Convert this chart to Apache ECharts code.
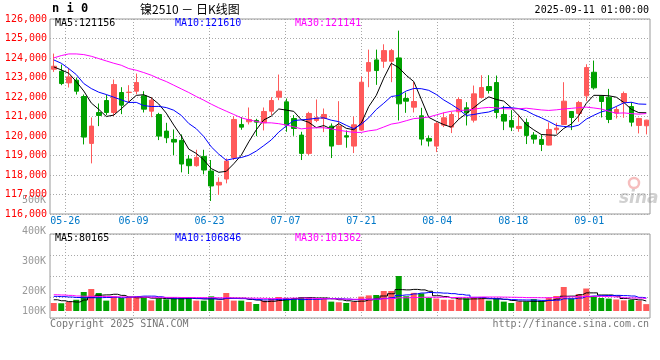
<!DOCTYPE html>
<html><head><meta charset="utf-8">
<script src="https://cdn.jsdelivr.net/npm/echarts@6/dist/echarts.min.js"></script>
<style>html,body{margin:0;padding:0;background:#fff}#c{width:660px;height:360px}</style>
</head><body><div id="c"></div>
<script>
const dates = ['05-22','05-23','05-26','05-27','05-28','05-29','05-30',
'06-03','06-04','06-05','06-06','06-09','06-10','06-11','06-12','06-13','06-16','06-17','06-18','06-19','06-20','06-23','06-24','06-25','06-26','06-27','06-30',
'07-01','07-02','07-03','07-04','07-07','07-08','07-09','07-10','07-11','07-14','07-15','07-16','07-17','07-18','07-21','07-22','07-23','07-24','07-25','07-28','07-29','07-30','07-31',
'08-01','08-04','08-05','08-06','08-07','08-08','08-11','08-12','08-13','08-14','08-15','08-18','08-19','08-20','08-21','08-22','08-25','08-26','08-27','08-28','08-29',
'09-01','09-02','09-03','09-04','09-05','09-08','09-09','09-10','09-11'];
const dateTicks = ['05-26','06-09','06-23','07-07','07-21','08-04','08-18','09-01'];

const opens = [123424,123322,122724,122861,122025,119620,121206,121820,121206,122230,
122230,122298,122059,121274,121104,120251,119824,119773,118818,118477,
118954,118204,117487,117794,118886,120592,120728,120797,120677,121274,
121991,121752,120899,120046,119108,120797,120899,120507,119568,120012,
119483,120302,123322,123902,123833,123833,124004,121923,121479,121036,
119876,119483,120558,120456,121240,121445,120814,121974,122537,122742,
121104,120797,120387,120694,120046,119824,119534,120319,120592,121257,
121155,122059,123270,122042,121991,121172,121735,121513,120541,120524];
const closes = [123577,122690,123032,122298,119944,120507,121053,121206,122639,121581,
122247,122742,121377,121837,119995,119910,119688,118562,118477,118903,
118255,117436,117624,118715,120848,120455,120848,120711,121257,121820,
122298,120558,120387,119108,121155,120933,121104,119483,120507,119944,
120575,122759,123765,123356,124379,124379,121650,121786,121769,119841,
119739,120643,120933,121104,121871,121189,122161,122486,122332,121206,
120763,120456,120490,120029,119841,119568,120336,120404,121786,120950,
121718,123509,122469,121769,120848,121360,122178,120711,120899,120814];
const lows = [123287,122605,122486,122127,119568,118596,120507,121070,121018,121121,
121701,122144,121206,120967,119790,119636,119022,118135,118050,118425,
118033,116668,116975,117572,118767,120319,120592,119995,120285,121070,
121837,120217,120012,118767,119022,120711,120200,118869,119534,119398,
119125,120268,122503,122622,123492,122759,120797,121189,121206,119517,
119466,119176,120456,120149,120848,120540,120694,121923,122178,120899,
120302,120251,120217,119586,119603,119227,119517,120115,120558,120302,
120728,121786,122383,120950,120660,120899,120933,120490,120132,120081];
const highs = [124226,123663,123492,122997,122127,120950,121667,122110,122895,122503,
122605,123202,122298,121991,121189,120677,120336,120080,119022,119295,
119295,118767,117879,118852,121018,120967,121462,120882,121462,121991,
123151,121923,121070,120217,121240,121872,121411,120643,121786,120285,
121002,123049,124430,124430,124703,124465,125403,122229,122776,121445,
120029,120729,121206,121240,121991,121735,122588,123117,123117,123100,
121548,121326,121104,120899,120200,120080,120694,120677,122759,121257,
121803,123680,123868,122093,122417,121513,122281,121735,120933,120831];

const ma5 = [123543,123390,123219,122793,122308,121694,121367,121002,121070,121397,
121745,122083,122117,121957,121640,121172,120561,119998,119326,119108,
118777,118327,118139,118187,118576,119016,119698,120315,120824,121018,
121387,121329,121264,120834,120701,120428,120537,120357,120636,120394,
120323,120654,121510,122080,122967,123728,123506,123110,122793,121885,
120957,120756,120585,120452,120858,121148,121452,121762,122008,121875,
121790,121449,121049,120589,120316,120077,120053,120036,120387,120609,
121039,121673,122086,122083,122063,121991,121725,121373,121199,121192];
const ma10 = [123902,123731,123458,123151,122690,122434,122247,122127,121991,121853,
121720,121725,121559,121513,121518,121459,121322,121058,120642,120374,
119975,119444,119069,118757,118842,118896,119012,119227,119505,119797,
120201,120513,120790,120829,120860,120908,120933,120810,120735,120548,
120375,120596,120933,121358,121681,122025,122080,122310,122436,122426,
122342,122131,121848,121622,121372,121053,121104,121174,121230,121366,
121469,121450,121406,121298,121095,120933,120751,120543,120488,120462,
120558,120863,121061,121235,121336,121515,121699,121730,121641,121628];
const ma30 = [124004,124123,124209,124209,124175,124089,123970,123850,123731,123629,
123458,123373,123253,123117,122946,122793,122605,122417,122230,122025,
121837,121633,121445,121274,121104,120933,120831,120745,120677,120674,
120632,120561,120473,120366,120407,120421,120423,120365,120294,120239,
120184,120184,120264,120315,120461,120610,120675,120783,120892,120924,
120973,121080,121190,121270,121304,121328,121372,121431,121467,121447,
121396,121392,121396,121426,121382,121337,121311,121342,121385,121418,
121456,121481,121438,121385,121268,121167,121184,121149,121120,121152];

const volumes = [64000,62000,72000,90000,152000,176000,144000,83000,117000,104000,
112000,112000,104000,85000,99000,93000,109000,104000,104000,83000,
83000,117000,83000,144000,83000,83000,72000,56000,83000,96000,
112000,104000,104000,112000,104000,96000,104000,75000,70000,64000,
72000,115000,125000,128000,160000,160000,280000,118000,145000,141000,
105000,100000,90000,90000,100000,100000,105000,100000,83000,100000,
75000,64000,75000,75000,95000,80000,105000,120000,192000,100000,
135000,180000,120000,104000,99000,92000,85000,88000,82000,55000];
const vma5 = [90000,82000,75000,72000,88000,110000,127000,129000,134000,125000,
112000,106000,110000,103000,102000,99000,98000,98000,102000,99000,
97000,98000,94000,102000,102000,102000,93000,88000,75000,78000,
84000,90000,100000,106000,107000,104000,104000,98000,90000,82000,
77000,79000,89000,101000,120000,138000,171000,169000,173000,169000,
158000,122000,116000,105000,97000,96000,97000,99000,98000,98000,
93000,84000,79000,78000,77000,78000,86000,95000,118000,119000,
130000,145000,145000,128000,128000,119000,100000,94000,89000,80000];
const vma10 = [117000,115000,112000,108000,106000,106000,107000,108000,110000,106000,
111000,116000,119000,119000,114000,105000,102000,104000,103000,101000,
98000,98000,96000,102000,100000,99000,96000,91000,89000,90000,
93000,92000,94000,91000,93000,94000,97000,99000,98000,95000,
91000,92000,94000,95000,101000,107000,125000,129000,137000,144000,
148000,146000,143000,139000,133000,127000,109000,108000,101000,97000,
94000,91000,89000,88000,87000,85000,85000,87000,98000,98000,
104000,116000,120000,123000,124000,125000,123000,120000,109000,104000];
const vma30 = [130000,128000,125000,120000,118000,117000,116000,115000,114000,113000,
112000,112000,111000,110000,110000,109000,109000,108000,108000,107000,
107000,107000,106000,106000,105000,104000,103000,102000,101000,99000,
101000,102000,103000,104000,102000,100000,98000,98000,96000,95000,
94000,94000,94000,96000,98000,100000,106000,106000,108000,110000,
110000,110000,110000,108000,109000,109000,110000,112000,112000,112000,
111000,110000,109000,107000,107000,106000,107000,108000,112000,113000,
115000,118000,117000,117000,115000,112000,106000,105000,103000,100000];

const priceMin = 116000, priceMax = 126000, priceStep = 1000;
const volTickLabels = ['500K','400K','300K','200K','100K'];
const maNames = ['MA5','MA10','MA30'];
const priceLegend = [121156,121610,121141];
const volLegend = [80165,106846,101362];
const symbolName = 'n i 0';
const chartTitle = '镍2510 － 日K线图';
const stamp = '2025-09-11 01:00:00';

const RED = '#FF5A5A', GREEN = '#00A000';
const maColors = ['#000000','#0000FF','#FF00FF'];
const mono = '"DejaVu Sans Mono","Liberation Mono",monospace';
const dot = {color:'#A8A8A8', type:[1,2], width:1};

const chart = echarts.init(document.getElementById('c'), null, {renderer:'canvas', width:660, height:360});

function lineSeries(data, color, xi, yi, step){
  return {type:'line', data, xAxisIndex:xi, yAxisIndex:yi, symbol:'none', silent:true, step: step || false,
    lineStyle:{color, width:1}, itemStyle:{color}, z:5};
}

const volLabelY = [200, 231, 261, 291, 311];
const graphics = [];
graphics.push({type:'text', left:52, top:3, style:{text:symbolName, font:'bold 12px '+mono, fill:'#000'}});
graphics.push({type:'text', left:140, top:3, style:{text:chartTitle, font:'12px "Noto Sans CJK SC"', fill:'#000'}});
graphics.push({type:'text', right:11, top:5, style:{text:stamp, font:'10px '+mono, fill:'#000'}});
const legX = [55, 175, 295];
maNames.forEach((n,i)=>{
  graphics.push({type:'text', left:legX[i], top:18, z:10, style:{text:n+':'+priceLegend[i], font:'10px '+mono, fill:maColors[i]}});
  graphics.push({type:'text', left:legX[i], top:233, z:10, style:{text:n+':'+volLegend[i], font:'10px '+mono, fill:maColors[i]}});
});
volTickLabels.forEach((t,i)=>{
  graphics.push({type:'text', x:46, y:volLabelY[i], style:{text:t, font:'10px '+mono, fill:'#999', align:'right', verticalAlign:'middle'}});
});
graphics.push({type:'text', left:50, top:319, style:{text:'Copyright 2025 SINA.COM', font:'10px '+mono, fill:'#777'}});
graphics.push({type:'text', right:11, top:319, style:{text:'http://finance.sina.com.cn', font:'10px '+mono, fill:'#777'}});
graphics.push({type:'circle', shape:{cx:634, cy:183, r:5}, style:{fill:'none', stroke:'rgba(235,110,110,0.45)', lineWidth:2.5}, z:1});
graphics.push({type:'text', x:619, y:190, z:1, style:{text:'sina', font:'italic bold 17px "DejaVu Sans"', fill:'rgba(150,150,150,0.45)'}});

const option = {
  animation:false,
  backgroundColor:'#fff',
  grid:[
    {left:50, top:19, width:600, height:195, show:true, borderColor:'#999', borderWidth:1, outerBoundsMode:'none'},
    {left:50, top:234, width:600, height:84, show:true, borderColor:'#999', borderWidth:1, outerBoundsMode:'none'}
  ],
  xAxis:[
    {type:'category', gridIndex:0, data:dates, boundaryGap:true, show:false},
    {type:'category', gridIndex:0, data:dates, boundaryGap:false, position:'bottom',
      axisLine:{show:false}, axisTick:{show:false},
      axisLabel:{interval:(i,v)=>dateTicks.includes(v), color:'#0078C8', fontFamily:mono, fontSize:10, margin:2, hideOverlap:false},
      splitLine:{show:true, interval:(i,v)=>dateTicks.includes(v), lineStyle:dot}},
    {type:'category', gridIndex:1, data:dates, boundaryGap:true, show:false},
    {type:'category', gridIndex:1, data:dates, boundaryGap:false, position:'bottom',
      axisLine:{show:false}, axisTick:{show:false}, axisLabel:{show:false},
      splitLine:{show:true, interval:(i,v)=>dateTicks.includes(v), lineStyle:dot}}
  ],
  yAxis:[
    {type:'value', gridIndex:0, min:priceMin, max:priceMax, interval:priceStep,
      axisLine:{show:false}, axisTick:{show:false},
      axisLabel:{color:'#FF0000', fontFamily:mono, fontSize:10, margin:3, padding:[0,0,4,0]},
      splitLine:{show:true, lineStyle:dot}},
    {type:'value', gridIndex:1, min:-56000, max:616000, show:false},
    {type:'value', gridIndex:1, min:0, max:4, interval:1,
      axisLine:{show:false}, axisTick:{show:false}, axisLabel:{show:false},
      splitLine:{show:true, lineStyle:dot}}
  ],
  series:[
    {type:'candlestick', xAxisIndex:0, yAxisIndex:0, barWidth:5, silent:true, z:4,
      data: dates.map((d,i)=>[opens[i], closes[i], lows[i], highs[i]]),
      itemStyle:{color:RED, color0:GREEN, borderColor:RED, borderColor0:GREEN, borderWidth:1}},
    lineSeries(ma5, maColors[0], 0, 0),
    lineSeries(ma10, maColors[1], 0, 0),
    lineSeries(ma30, maColors[2], 0, 0),
    {type:'bar', xAxisIndex:2, yAxisIndex:1, barWidth:6, silent:true, z:3,
      data: volumes.map((v,i)=>({value:v, itemStyle:{color: closes[i] >= opens[i] ? RED : GREEN}}))},
    lineSeries(vma5, maColors[0], 2, 1, 'middle'),
    lineSeries(vma10, maColors[1], 2, 1, 'middle'),
    lineSeries(vma30, maColors[2], 2, 1, 'middle')
  ],
  graphic: graphics
};
chart.setOption(option);
</script>
</body></html>
